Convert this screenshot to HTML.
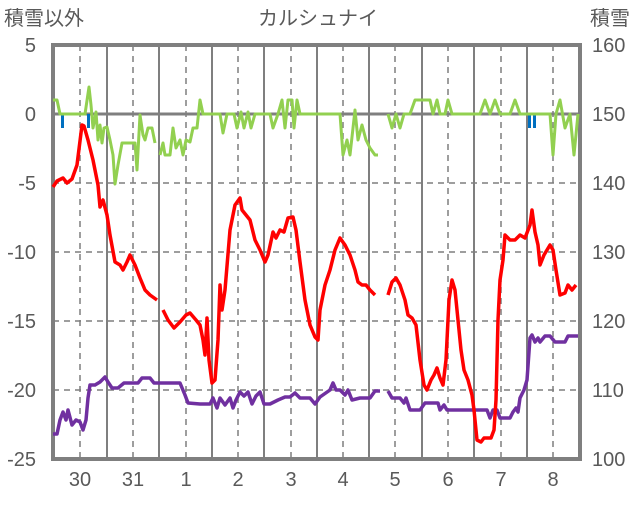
<!DOCTYPE html>
<html><head><meta charset="utf-8"><style>
body{margin:0;background:#fff;}
svg text{font-family:"Liberation Sans","Noto Sans CJK JP",sans-serif;fill:#595959;font-size:20px;}
</style></head><body>
<svg width="636" height="501" viewBox="0 0 636 501">
<rect width="636" height="501" fill="#fff"/>
<g stroke="#7f7f7f" stroke-width="1.5" stroke-dasharray="6,5">
<line x1="53" y1="183" x2="580" y2="183"/><line x1="53" y1="252" x2="580" y2="252"/>
<line x1="53" y1="321" x2="580" y2="321"/><line x1="53" y1="390" x2="580" y2="390"/>
<line x1="80" y1="45" x2="80" y2="459"/><line x1="133" y1="45" x2="133" y2="459"/>
<line x1="186" y1="45" x2="186" y2="459"/><line x1="238" y1="45" x2="238" y2="459"/>
<line x1="291" y1="45" x2="291" y2="459"/><line x1="343" y1="45" x2="343" y2="459"/>
<line x1="395" y1="45" x2="395" y2="459"/><line x1="448" y1="45" x2="448" y2="459"/>
<line x1="501" y1="45" x2="501" y2="459"/><line x1="553" y1="45" x2="553" y2="459"/>
</g>
<g stroke="#7f7f7f" stroke-width="2">
<line x1="107" y1="45" x2="107" y2="459"/><line x1="159" y1="45" x2="159" y2="459"/>
<line x1="212" y1="45" x2="212" y2="459"/><line x1="264" y1="45" x2="264" y2="459"/>
<line x1="317" y1="45" x2="317" y2="459"/><line x1="369" y1="45" x2="369" y2="459"/>
<line x1="422" y1="45" x2="422" y2="459"/><line x1="474" y1="45" x2="474" y2="459"/>
<line x1="527" y1="45" x2="527" y2="459"/>
</g>
<line x1="53" y1="114" x2="580" y2="114" stroke="#7f7f7f" stroke-width="3"/>
<rect x="53" y="45" width="527" height="414" fill="none" stroke="#7f7f7f" stroke-width="4"/>
<g fill="#0070c0"><rect x="61" y="114" width="3" height="14"/><rect x="87" y="114" width="3" height="14"/><rect x="528" y="114" width="3" height="14"/><rect x="533" y="114" width="3" height="14"/></g>
<g fill="none" stroke-width="3" stroke-linejoin="round">
<polyline stroke="#92d050" points="53,100 57,100 60,114 85,114 89,87 91,105 93,128 96,112 98,140 100,125 102,143 104,128 107,127 110,140 113,155 115,184 118,165 122,143 130,143 135,143 137,170 140,115 143,135 145,140 148,128 152,128 155,143"/>
<polyline stroke="#92d050" points="160,155 163,143 165,155 170,155 173,128 176,148 180,140 183,155 186,140 190,142 193,128 197,128 200,100 203,114 220,114 223,133 227,114 234,114 237,128 241,112 244,128 248,112 251,128 255,114 270,114 273,128 278,114 282,100 285,128 288,100 292,100 294,128 297,100 300,114 340,114 343,155 347,140 350,155 355,110 358,140 362,125 366,140 370,148 375,155 378,155"/>
<polyline stroke="#92d050" points="388,114 392,128 396,114 400,128 404,114 410,114 415,100 420,100 430,100 433,114 437,100 440,114 445,114 448,100 452,114 480,114 485,100 490,114 495,100 500,114 510,114 515,100 520,114 550,114 553,155 556,114 560,100 565,128 570,114 574,155 578,114"/>
<polyline stroke="#7030a0" stroke-width="3.5" points="53,434 57,434 60,420 63,412 66,420 68,410 72,425 76,420 80,422 83,430 86,420 88,398 90,385 95,385 100,382 105,377 108,382 112,388 118,388 124,383 130,383 138,383 142,378 150,378 154,383 160,383 180,383 185,395 188,403 200,404 210,404 213,398 217,408 220,398 225,405 230,398 233,408 236,400 240,392 244,396 248,392 252,404 256,396 260,392 264,404 270,404 278,400 285,397 290,397 295,393 300,398 310,398 315,404 320,397 330,390 333,383 336,390 340,390 345,395 348,390 352,400 360,398 370,398 375,391 380,391"/>
<polyline stroke="#7030a0" stroke-width="3.5" points="388,391 392,398 400,398 404,403 406,398 410,410 420,410 425,403 438,403 440,410 444,405 447,410 487,410 490,418 493,410 497,410 500,418 510,418 513,412 516,408 518,412 520,398 524,390 527,380 530,338 532,335 535,342 538,338 540,342 545,336 550,336 555,342 565,342 568,336 578,336"/>
<polyline stroke="#ff0000" stroke-width="3.5" points="53,187 57,181 63,178 67,183 72,179 77,165 82,125 84,126 88,140 93,160 98,185 100,207 103,200 107,215 110,235 115,262 120,265 123,270 127,262 130,255 135,265 140,278 145,290 150,295 157,300"/>
<polyline stroke="#ff0000" stroke-width="3.5" points="163,310 168,320 174,328 180,322 186,315 190,313 196,320 200,325 203,340 205,355 207,318 209,360 212,383 215,380 218,340 220,285 222,310 225,290 230,230 235,205 240,198 242,210 246,215 250,220 255,240 260,250 265,262 268,255 273,232 276,238 280,230 284,232 288,218 293,217 296,230 300,262 305,300 310,325 315,337 318,340 320,310 325,285 330,270 335,250 340,238 345,245 350,255 355,270 358,282 362,285 366,285 370,290 375,295"/>
<polyline stroke="#ff0000" stroke-width="3.5" points="388,295 392,282 396,278 400,285 405,300 408,315 412,318 416,325 420,360 424,385 427,390 431,380 434,375 437,368 440,378 443,385 446,360 449,300 452,280 455,290 458,320 461,350 464,370 468,380 472,395 474,410 477,440 481,442 484,438 491,438 494,430 496,400 498,320 500,280 503,260 505,235 510,240 515,240 520,235 525,238 530,225 532,210 535,232 538,245 540,265 544,255 550,245 553,250 556,270 560,295 565,293 568,285 572,290 576,285"/>
</g>
<text x="318" y="25" text-anchor="middle">カルシュナイ</text>
<text x="4" y="25">積雪以外</text>
<text x="590" y="25">積雪</text>
<g text-anchor="end">
<text x="36" y="52">5</text><text x="36" y="121">0</text><text x="36" y="190">-5</text>
<text x="36" y="259">-10</text><text x="36" y="328">-15</text><text x="36" y="397">-20</text><text x="36" y="466">-25</text>
</g>
<g>
<text x="592" y="52">160</text><text x="592" y="121">150</text><text x="592" y="190">140</text>
<text x="592" y="259">130</text><text x="592" y="328">120</text><text x="592" y="397">110</text><text x="592" y="466">100</text>
</g>
<g text-anchor="middle">
<text x="80" y="486">30</text><text x="133" y="486">31</text><text x="186" y="486">1</text>
<text x="238" y="486">2</text><text x="291" y="486">3</text><text x="343" y="486">4</text>
<text x="395" y="486">5</text><text x="448" y="486">6</text><text x="501" y="486">7</text><text x="553" y="486">8</text>
</g>
</svg>
</body></html>
